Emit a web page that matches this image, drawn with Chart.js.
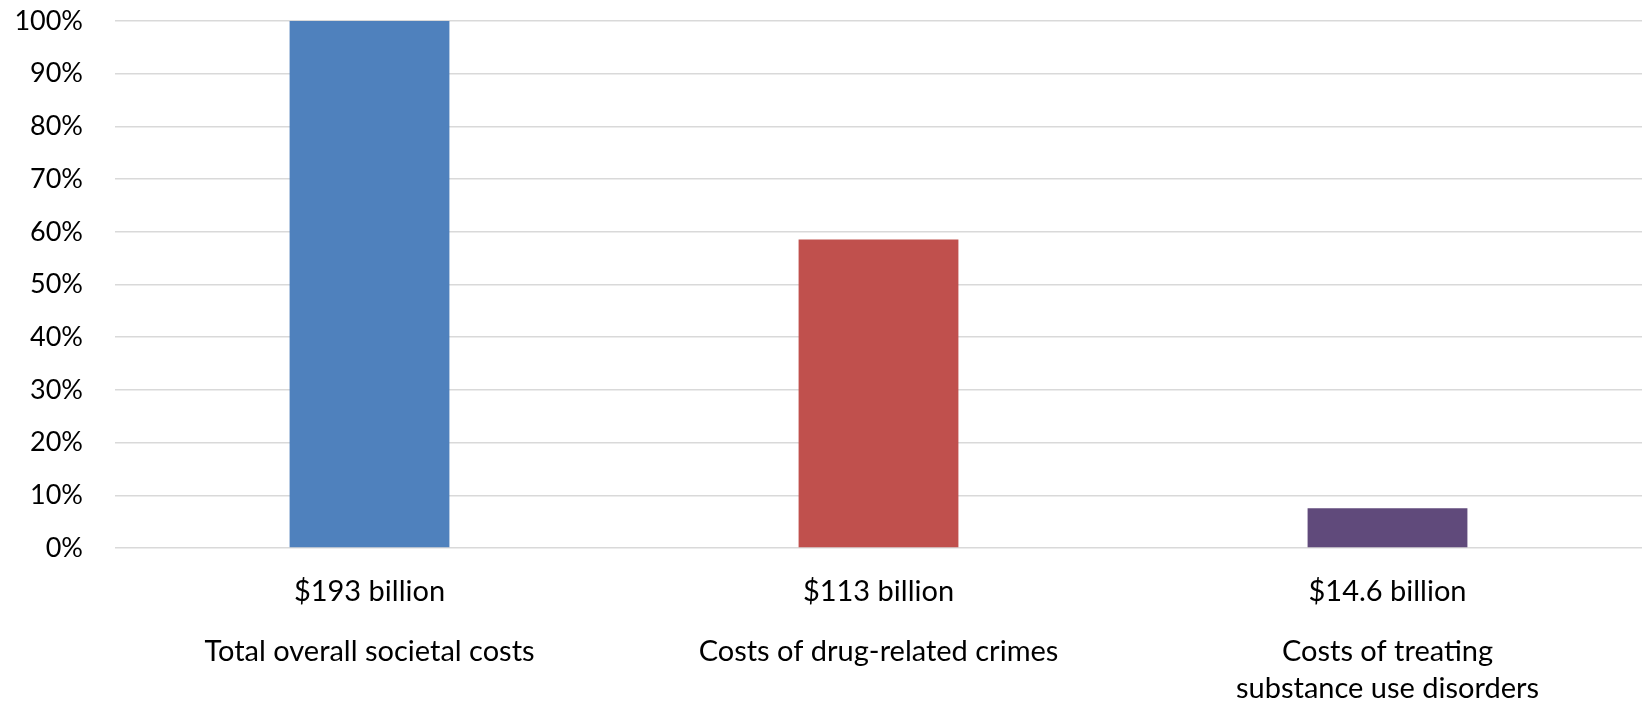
<!DOCTYPE html>
<html>
<head>
<meta charset="utf-8">
<script src="https://cdn.jsdelivr.net/npm/chart.js@4/dist/chart.umd.min.js"></script>
<style>
  html, body { margin: 0; padding: 0; background: #ffffff; }
  #wrap { width: 1645px; height: 703px; }
</style>
</head>
<body>
<div id="wrap"><canvas id="c" width="1645" height="703"></canvas></div>
<script>
// Cost categories and their dollar totals (billions)
const categories = ["Total overall societal costs", "Costs of drug-related crimes", ["Costs of treating", "substance use disorders"]];
const amountLabels = ["$193 billion", "$113 billion", "$14.6 billion"];
const amountsBillion = [193, 113, 14.6];
const barColors = ["#4F81BD", "#C0504D", "#604A7B"];
const yTicks = [0, 10, 20, 30, 40, 50, 60, 70, 80, 90, 100];

// Share of the total societal cost, in percent
const sharePercent = amountsBillion.map(v => v / amountsBillion[0] * 100);

const FONT = "Lato, 'Open Sans', sans-serif";

new Chart(document.getElementById("c"), {
  type: "bar",
  data: {
    labels: amountLabels,
    datasets: [{
      data: sharePercent,
      backgroundColor: barColors,
      borderWidth: 0,
      barPercentage: 0.314,
      categoryPercentage: 1.0
    }]
  },
  options: {
    responsive: false,
    animation: false,
    layout: { padding: { top: 21, right: 3, left: 0, bottom: 0 } },
    plugins: { legend: { display: false }, tooltip: { enabled: false } },
    scales: {
      y: {
        min: 0, max: 100,
        afterBuildTicks: s => { s.ticks = yTicks.map(v => ({ value: v })); },
        afterFit: s => { s.width = 115; s.paddingTop = 0; s.paddingBottom = 0; },
        grid: { color: "#d9d9d9", lineWidth: 1.5, drawTicks: false },
        border: { display: false },
        ticks: {
          padding: 32,
          color: "#000000",
          font: { family: FONT, size: 27 },
          callback: v => v + "%"
        }
      },
      x: {
        position: "bottom",
        grid: { display: false },
        border: { display: false },
        afterFit: s => { s.height = 66; },
        ticks: {
          padding: 18,
          color: "#000000",
          maxRotation: 0,
          autoSkip: false,
          font: { family: FONT, size: 29 }
        }
      },
      x2: {
        type: "category",
        position: "bottom",
        labels: categories,
        grid: { display: false },
        border: { display: false },
        afterFit: s => { s.height = 89; },
        ticks: {
          padding: 12,
          color: "#000000",
          maxRotation: 0,
          autoSkip: false,
          font: { family: FONT, size: 29, lineHeight: 1.25 }
        }
      }
    }
  }
});
</script>
</body>
</html>
